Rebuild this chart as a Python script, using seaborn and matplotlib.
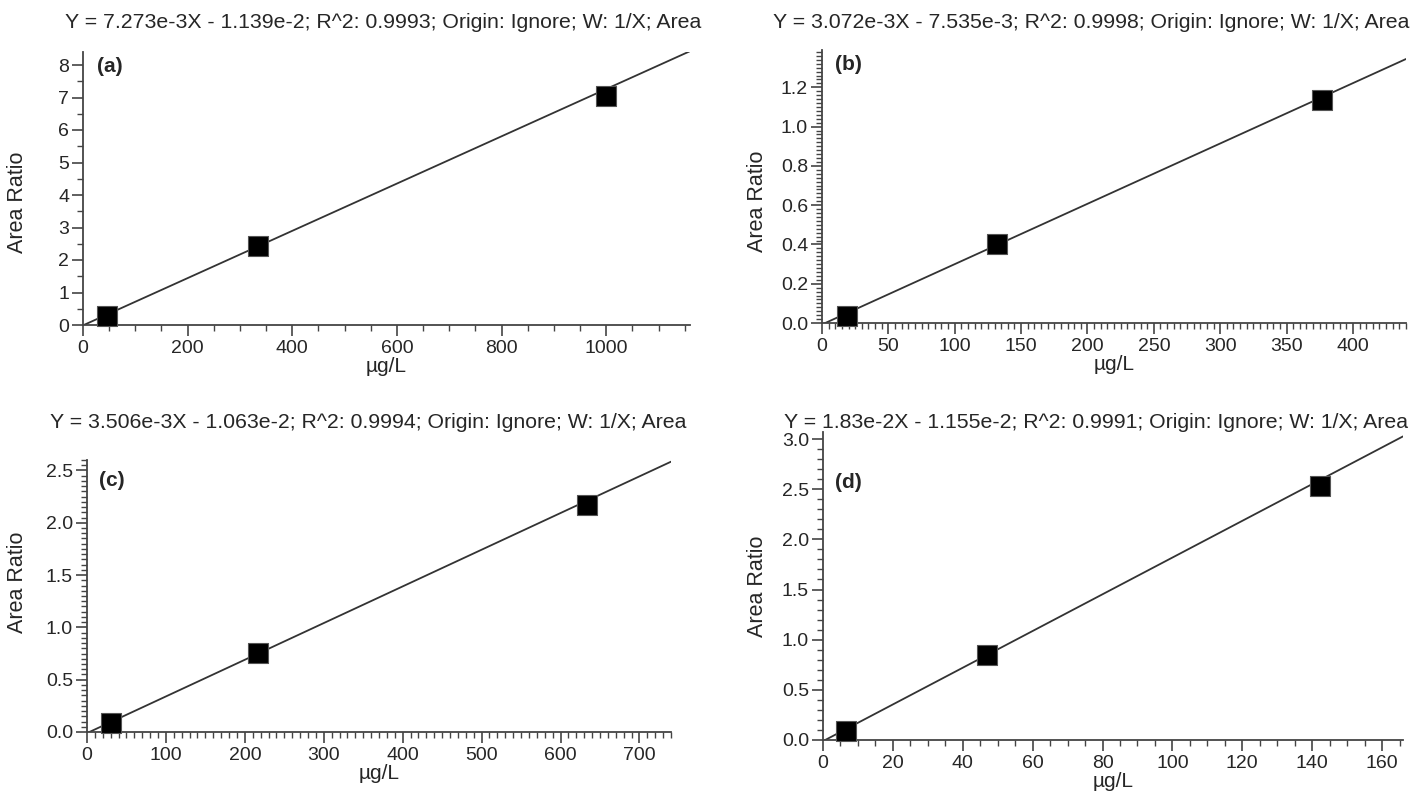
import numpy as np
import pandas as pd
import seaborn as sns
import matplotlib.pyplot as plt
from matplotlib.ticker import MultipleLocator

# calibration points
conc_a = [46, 335, 1000]
ratio_a = [0.28, 2.42, 7.06]
conc_b = [19, 132, 377]
ratio_b = [0.035, 0.40, 1.135]
conc_c = [30, 217, 633]
ratio_c = [0.085, 0.755, 2.17]
conc_d = [6.5, 47, 142.3]
ratio_d = [0.09, 0.85, 2.53]

# fitted lines as printed in the headers
slopes = [7.273e-3, 3.072e-3, 3.506e-3, 1.83e-2]
intercepts = [-1.139e-2, -7.535e-3, -1.063e-2, -1.155e-2]
titles = [
    "Y = 7.273e-3X - 1.139e-2; R^2: 0.9993; Origin: Ignore; W: 1/X; Area",
    "Y = 3.072e-3X - 7.535e-3; R^2: 0.9998; Origin: Ignore; W: 1/X; Area",
    "Y = 3.506e-3X - 1.063e-2; R^2: 0.9994; Origin: Ignore; W: 1/X; Area",
    "Y = 1.83e-2X - 1.155e-2; R^2: 0.9991; Origin: Ignore; W: 1/X; Area",
]
panel_tags = ["(a)", "(b)", "(c)", "(d)"]

sns.set_theme(style="ticks")
plt.rcParams['font.family'] = ['Liberation Sans', 'DejaVu Sans']

W, H = 1416, 800
fig = plt.figure(figsize=(W / 100, H / 100), dpi=100)

# axes boxes in pixels: left, right, top, bottom
px_boxes = [
    (83, 690, 52, 325),
    (822, 1406, 50, 323),
    (87, 671, 460, 732),
    (823, 1403, 432, 740),
]
xmax = [1160, 440, 740, 166]
ymax = [8.4, 1.39, 2.6, 3.07]
xmaj = [200, 50, 100, 20]
xmin_step = [50, 5, 10, 5]
ymaj = [1, 0.2, 0.5, 0.5]
ymin_step = [0.5, 0.02, 0.05, 0.1]
title_xy = [(383, 23), (1091, 23), (368, 422), (1096, 422)]
tag_xy = [(97, 67), (835, 64), (99, 480), (835, 482)]
ylabel_x = [28, 768, 28, 768]
ylabel_y = [0.45, 0.447, 0.55, 0.5]

xs = [conc_a, conc_b, conc_c, conc_d]
ys = [ratio_a, ratio_b, ratio_c, ratio_d]

for i in range(4):
    l, r, t, b = px_boxes[i]
    ax = fig.add_axes([l / W, 1 - b / H, (r - l) / W, (b - t) / H])
    df = pd.DataFrame({"x": xs[i], "y": ys[i]})
    line = pd.DataFrame({"x": [0, xmax[i]]})
    line["y"] = slopes[i] * line["x"] + intercepts[i]
    sns.lineplot(data=line, x="x", y="y", ax=ax, color="#333333", lw=1.3)
    sns.scatterplot(data=df, x="x", y="y", ax=ax, marker="s", s=200,
                    color="black", edgecolor="#555555", linewidth=0.8,
                    clip_on=False, zorder=5)
    ax.set_xlim(0, xmax[i])
    ax.set_ylim(0, ymax[i])
    ax.xaxis.set_major_locator(MultipleLocator(xmaj[i]))
    ax.xaxis.set_minor_locator(MultipleLocator(xmin_step[i]))
    ax.yaxis.set_major_locator(MultipleLocator(ymaj[i]))
    ax.yaxis.set_minor_locator(MultipleLocator(ymin_step[i]))
    if i == 0:
        ax.yaxis.set_major_formatter(plt.FormatStrFormatter("%d"))
    else:
        ax.yaxis.set_major_formatter(plt.FormatStrFormatter("%.1f"))
    sns.despine(ax=ax)
    for s in ["left", "bottom"]:
        ax.spines[s].set_color("#444444")
        ax.spines[s].set_linewidth(1.3)
    ax.tick_params(which="major", length=8, width=1.2, color="#444444",
                   labelsize=14, pad=2)
    ax.tick_params(axis="x", which="major", pad=3)
    ax.tick_params(which="minor", length=4, width=1.0, color="#444444")
    ax.set_xlabel("µg/L", fontsize=15, labelpad=0)
    ax.set_ylabel("Area Ratio", fontsize=15.5)
    ax.yaxis.set_label_coords((ylabel_x[i] - l) / (r - l), ylabel_y[i])
    tx, ty = tag_xy[i]
    fig.text(tx / W, 1 - ty / H, panel_tags[i], fontsize=15,
             fontweight="bold", va="center", ha="left")
    tx, ty = title_xy[i]
    fig.text(tx / W, 1 - ty / H, titles[i], ha="center", va="center",
             fontsize=15.3)

plt.savefig("out.png", dpi=100)
